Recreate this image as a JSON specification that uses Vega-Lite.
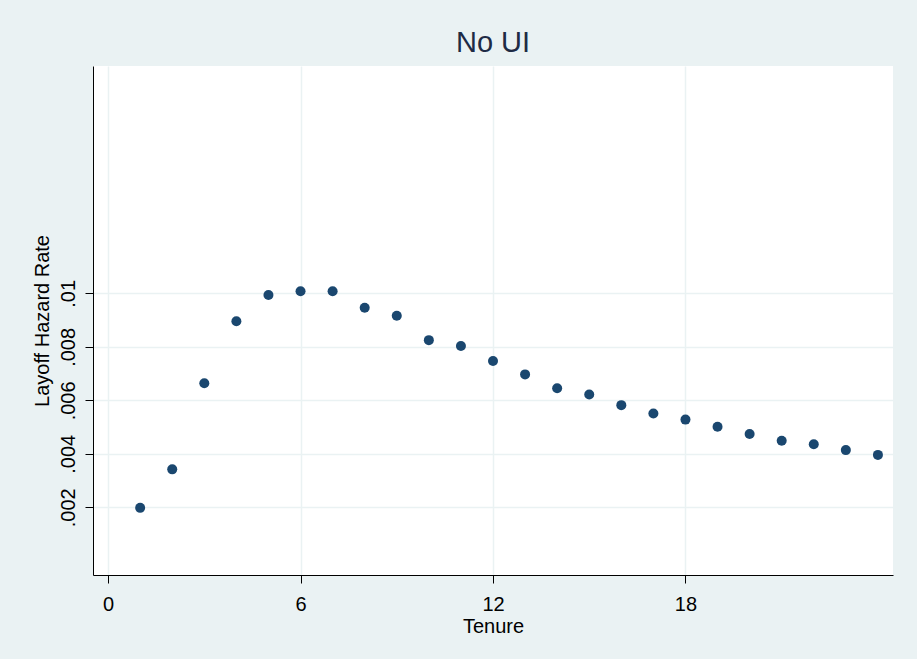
{
  "$schema": "https://vega.github.io/schema/vega-lite/v6.json",
  "autosize": {"type": "none"},
  "width": 800,
  "height": 509,
  "padding": {"left": 93, "top": 66, "right": 24, "bottom": 84},
  "background": "#EAF2F3",
  "config": {
    "view": {"fill": "white", "stroke": null},
    "font": "Liberation Sans"
  },
  "title": {
    "text": "No UI",
    "fontSize": 29,
    "font": "Liberation Sans",
    "fontWeight": "normal",
    "color": "#1E2B45",
    "anchor": "middle",
    "baseline": "alphabetic",
    "offset": -15
  },
  "data": {
    "values": [
      {"tenure": 1, "hazard": 0.00198},
      {"tenure": 2, "hazard": 0.00342},
      {"tenure": 3, "hazard": 0.00664},
      {"tenure": 4, "hazard": 0.00896},
      {"tenure": 5, "hazard": 0.00994},
      {"tenure": 6, "hazard": 0.01008},
      {"tenure": 7, "hazard": 0.01008},
      {"tenure": 8, "hazard": 0.00946},
      {"tenure": 9, "hazard": 0.00916},
      {"tenure": 10, "hazard": 0.00825},
      {"tenure": 11, "hazard": 0.00803},
      {"tenure": 12, "hazard": 0.00747},
      {"tenure": 13, "hazard": 0.00697},
      {"tenure": 14, "hazard": 0.00645},
      {"tenure": 15, "hazard": 0.00622},
      {"tenure": 16, "hazard": 0.00582},
      {"tenure": 17, "hazard": 0.00551},
      {"tenure": 18, "hazard": 0.00528},
      {"tenure": 19, "hazard": 0.00501},
      {"tenure": 20, "hazard": 0.00474},
      {"tenure": 21, "hazard": 0.00449},
      {"tenure": 22, "hazard": 0.00436},
      {"tenure": 23, "hazard": 0.00414},
      {"tenure": 24, "hazard": 0.00396}
    ]
  },
  "mark": {"type": "circle", "size": 100, "color": "#1A476F", "opacity": 1},
  "encoding": {
    "x": {
      "field": "tenure",
      "type": "quantitative",
      "scale": {"domain": [-0.47, 24.47], "nice": false, "zero": false},
      "axis": {
        "title": "Tenure",
        "values": [0, 6, 12, 18],
        "format": "d",
        "domainColor": "black",
        "domainWidth": 1,
        "tickColor": "black",
        "tickSize": 8,
        "tickWidth": 1,
        "labelFontSize": 20,
        "labelColor": "black",
        "labelFont": "Liberation Sans",
        "labelBaseline": "alphabetic",
        "labelPadding": 27,
        "labelFlush": false,
        "titleFontSize": 20,
        "titleFontWeight": "normal",
        "titleColor": "black",
        "titleFont": "Liberation Sans",
        "titleBaseline": "alphabetic",
        "titleY": 57,
        "grid": true,
        "gridColor": "#EAF2F3",
        "gridWidth": 1.5
      }
    },
    "y": {
      "field": "hazard",
      "type": "quantitative",
      "scale": {"domain": [-0.00053, 0.0185], "nice": false, "zero": false},
      "axis": {
        "title": "Layoff Hazard Rate",
        "values": [0.002, 0.004, 0.006, 0.008, 0.01],
        "labelExpr": "replace(format(datum.value, '.3~f'), /^0/, '')",
        "domainColor": "black",
        "domainWidth": 1,
        "tickColor": "black",
        "tickSize": 8,
        "tickWidth": 1,
        "labelFontSize": 20,
        "labelColor": "black",
        "labelFont": "Liberation Sans",
        "labelAngle": 270,
        "labelAlign": "center",
        "labelBaseline": "alphabetic",
        "labelPadding": 11,
        "labelFlush": false,
        "titleFontSize": 20,
        "titleFontWeight": "normal",
        "titleColor": "black",
        "titleFont": "Liberation Sans",
        "titleAngle": 270,
        "titleBaseline": "alphabetic",
        "titleX": -45,
        "grid": true,
        "gridColor": "#EAF2F3",
        "gridWidth": 1.5
      }
    }
  }
}
